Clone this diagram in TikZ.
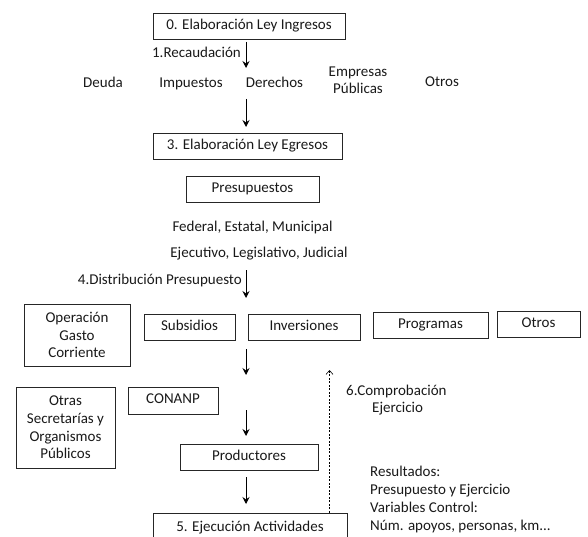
\documentclass[tikz,border=0pt]{standalone}
\usepackage{fontspec}
\setmainfont{Carlito}
\usetikzlibrary{arrows.meta}
\begin{document}
\begin{tikzpicture}[x=1pt,y=-1pt,
  box/.style={draw=black!85, line width=0.8pt, inner sep=0pt, align=center, text=black!90, font=\fontsize{15}{17.7}\selectfont},
  sbox/.style={box, text height=10pt, text depth=3.5pt},
  lbl/.style={inner sep=0pt, align=center, text=black!90, font=\fontsize{15}{17.7}\selectfont},
  arr/.style={-{Stealth[length=7pt,width=7pt,inset=2.5pt]}, line width=0.9pt},
  darr/.style={-{Straight Barb[length=4pt,width=7pt]}, line width=0.6pt, dash pattern=on 2pt off 1.5pt}]
\useasboundingbox (0,0) rectangle (588,537);
\clip (0,0) rectangle (588,537);
% top
\node[sbox, minimum width=192pt, minimum height=26pt] (b0) at (249,26) {0. Elaboración Ley Ingresos};
\coordinate (a1s) at (246,42);
\coordinate (a1e) at (246,68);
\draw[arr] (a1s) -- (a1e);
\node[lbl, anchor=base east] (rec) at (241,58) {1.Recaudación};
\node[lbl, anchor=base] (deuda) at (103,88) {Deuda};
\node[lbl, anchor=base] (imp) at (191,88) {Impuestos};
\node[lbl, anchor=base] (der) at (274.5,88) {Derechos};
\node[lbl, anchor=base] (emp) at (358,94) {Empresas\\Públicas};
\node[lbl, anchor=base] (otr1) at (442,87) {Otros};
\coordinate (a2s) at (246,99);
\coordinate (a2e) at (246,127);
\draw[arr] (a2s) -- (a2e);
\node[sbox, minimum width=189pt, minimum height=26pt] (b3) at (247.5,146) {3. Elaboración Ley Egresos};
\node[sbox, minimum width=133pt, minimum height=26pt] (pres) at (252.5,189) {Presupuestos};
\node[lbl, anchor=base] (fed) at (252.5,231) {Federal, Estatal, Municipal};
\node[lbl, anchor=base] (eje) at (259,257) {Ejecutivo, Legislativo, Judicial};
\node[lbl, anchor=base east] (dist) at (242,284) {4.Distribución Presupuesto};
\coordinate (a4s) at (246,270);
\coordinate (a4e) at (246,298);
\draw[arr] (a4s) -- (a4e);
% row of boxes
\node[box, minimum width=106pt, minimum height=62pt] (ogc) at (77,335) {Operación\\Gasto\\Corriente};
\node[sbox, minimum width=91pt, minimum height=26pt] (sub) at (189.5,327) {Subsidios};
\node[sbox, minimum width=112pt, minimum height=26pt] (inv) at (304,327) {Inversiones};
\node[sbox, minimum width=115pt, minimum height=26pt] (prog) at (430.5,325) {Programas};
\node[sbox, minimum width=83pt, minimum height=26pt] (otr2) at (538.5,324) {Otros};
\coordinate (a5s) at (246,349);
\coordinate (a5e) at (246,375);
\draw[arr] (a5s) -- (a5e);
% lower part
\node[box, minimum width=99pt, minimum height=81pt] (osec) at (65.5,427.5) {Otras\\Secretarías y\\Organismos\\Públicos};
\node[sbox, minimum width=90pt, minimum height=27pt] (conanp) at (173,400.5) {CONANP};
\coordinate (a6s) at (246,410);
\coordinate (a6e) at (246,436);
\draw[arr] (a6s) -- (a6e);
\node[sbox, minimum width=138pt, minimum height=26pt] (prod) at (249,457.5) {Productores};
\coordinate (a7s) at (246,477);
\coordinate (a7e) at (246,504);
\draw[arr] (a7s) -- (a7e);
\node[sbox, minimum width=194pt, minimum height=30pt] (b5) at (250,528) {5. Ejecución Actividades};
\coordinate (dtop) at (329.5,370);
\draw[darr] (b5.north -| dtop) -- (dtop);
\node[lbl, anchor=base west] (comp1) at (346,395) {6.Comprobación};
\node[lbl, anchor=base west] (comp2) at (372,412) {Ejercicio};
\node[lbl, anchor=base west, align=left] (res) at (370,530) {Resultados:\\Presupuesto y Ejercicio\\Variables Control:\\Núm. apoyos, personas, km...};
\end{tikzpicture}
\end{document}
